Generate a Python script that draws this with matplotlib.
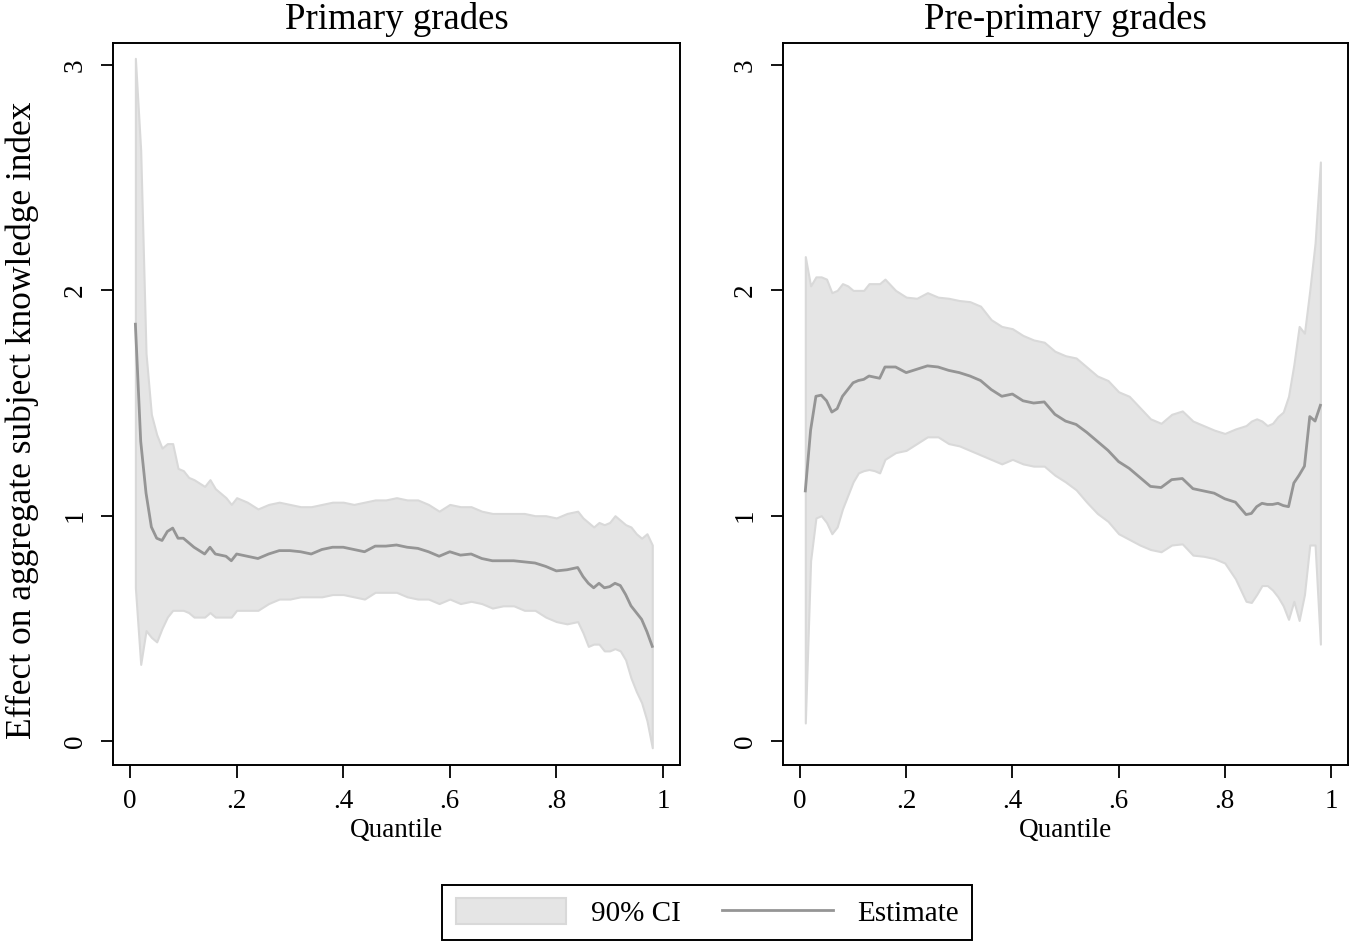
import matplotlib
matplotlib.use("Agg")
import matplotlib.pyplot as plt
from matplotlib.patches import Patch
from matplotlib.lines import Line2D

plt.rcParams["font.family"] = ["Liberation Serif", "DejaVu Serif"]

# ----------------------------
# Data
# ----------------------------

q_primary = [0.01, 0.02, 0.03, 0.04, 0.05, 0.06, 0.07, 0.08, 0.09, 0.10,
             0.11, 0.12, 0.14, 0.15, 0.16, 0.18, 0.19, 0.20, 0.22, 0.24,
             0.26, 0.28, 0.30, 0.32, 0.34, 0.36, 0.38, 0.40, 0.42, 0.44,
             0.46, 0.48, 0.50, 0.52, 0.54, 0.56, 0.58, 0.60, 0.62, 0.64,
             0.66, 0.68, 0.70, 0.72, 0.74, 0.76, 0.78, 0.80, 0.82, 0.84,
             0.85, 0.86, 0.87, 0.88, 0.89, 0.90, 0.91, 0.92, 0.93, 0.94,
             0.95, 0.96, 0.97, 0.98]
upper_primary = [3.03, 2.62, 1.72, 1.45, 1.36, 1.30, 1.32, 1.32, 1.21, 1.20,
                 1.17, 1.16, 1.13, 1.16, 1.12, 1.08, 1.05, 1.08, 1.06, 1.03,
                 1.05, 1.06, 1.05, 1.04, 1.04, 1.05, 1.06, 1.06, 1.05, 1.06,
                 1.07, 1.07, 1.08, 1.07, 1.07, 1.05, 1.02, 1.05, 1.04, 1.04,
                 1.02, 1.01, 1.01, 1.01, 1.01, 1.00, 1.00, 0.99, 1.01, 1.02,
                 0.99, 0.97, 0.95, 0.97, 0.96, 0.97, 1.00, 0.98, 0.96, 0.95,
                 0.92, 0.90, 0.92, 0.87]
est_primary = [1.85, 1.33, 1.10, 0.95, 0.90, 0.89, 0.93, 0.945, 0.90, 0.90,
               0.88, 0.86, 0.83, 0.86, 0.83, 0.82, 0.80, 0.83, 0.82, 0.81,
               0.83, 0.845, 0.845, 0.84, 0.83, 0.85, 0.86, 0.86, 0.85, 0.84,
               0.865, 0.865, 0.87, 0.86, 0.855, 0.84, 0.82, 0.84, 0.825, 0.83,
               0.81, 0.80, 0.80, 0.80, 0.795, 0.79, 0.775, 0.755, 0.76, 0.77,
               0.73, 0.70, 0.68, 0.70, 0.68, 0.685, 0.70, 0.69, 0.65, 0.60,
               0.57, 0.54, 0.485, 0.42]
lower_primary = [0.68, 0.34, 0.49, 0.46, 0.44, 0.50, 0.55, 0.58, 0.58, 0.58,
                 0.57, 0.55, 0.55, 0.57, 0.55, 0.55, 0.55, 0.58, 0.58, 0.58,
                 0.61, 0.63, 0.63, 0.64, 0.64, 0.64, 0.65, 0.65, 0.64, 0.63,
                 0.66, 0.66, 0.66, 0.64, 0.63, 0.63, 0.61, 0.63, 0.61, 0.62,
                 0.61, 0.59, 0.60, 0.60, 0.58, 0.58, 0.55, 0.53, 0.52, 0.53,
                 0.48, 0.42, 0.43, 0.43, 0.40, 0.40, 0.41, 0.40, 0.36, 0.28,
                 0.22, 0.17, 0.09, -0.03]

q_preprimary = [0.01, 0.02, 0.03, 0.04, 0.05, 0.06, 0.07, 0.08, 0.09, 0.10,
                0.11, 0.12, 0.13, 0.14, 0.15, 0.16, 0.18, 0.20, 0.22, 0.24,
                0.26, 0.28, 0.30, 0.32, 0.34, 0.36, 0.38, 0.40, 0.42, 0.44,
                0.46, 0.48, 0.50, 0.52, 0.54, 0.56, 0.58, 0.60, 0.62, 0.64,
                0.66, 0.68, 0.70, 0.72, 0.74, 0.76, 0.78, 0.80, 0.82, 0.84,
                0.85, 0.86, 0.87, 0.88, 0.89, 0.90, 0.91, 0.92, 0.93, 0.94,
                0.95, 0.96, 0.97, 0.98]
upper_preprimary = [2.15, 2.02, 2.06, 2.06, 2.05, 1.99, 2.00, 2.03, 2.02, 2.00,
                    2.00, 2.00, 2.03, 2.03, 2.03, 2.05, 2.00, 1.97, 1.965, 1.99,
                    1.97, 1.965, 1.955, 1.95, 1.93, 1.87, 1.84, 1.83, 1.80, 1.78,
                    1.77, 1.73, 1.71, 1.70, 1.66, 1.62, 1.60, 1.55, 1.53, 1.48,
                    1.43, 1.41, 1.45, 1.465, 1.42, 1.40, 1.38, 1.365, 1.385, 1.40,
                    1.42, 1.43, 1.42, 1.40, 1.41, 1.44, 1.46, 1.53, 1.67, 1.84,
                    1.81, 2.00, 2.21, 2.57]
est_preprimary = [1.11, 1.38, 1.53, 1.535, 1.51, 1.46, 1.475, 1.53, 1.56, 1.59,
                  1.60, 1.605, 1.62, 1.615, 1.61, 1.66, 1.66, 1.635, 1.65, 1.665,
                  1.66, 1.645, 1.635, 1.62, 1.60, 1.56, 1.53, 1.54, 1.51, 1.50,
                  1.505, 1.45, 1.42, 1.405, 1.37, 1.33, 1.29, 1.24, 1.21, 1.17,
                  1.13, 1.125, 1.16, 1.165, 1.12, 1.11, 1.10, 1.075, 1.06, 1.005,
                  1.01, 1.04, 1.055, 1.05, 1.05, 1.055, 1.045, 1.04, 1.145, 1.18,
                  1.22, 1.44, 1.42, 1.49]
lower_preprimary = [0.08, 0.80, 0.99, 1.00, 0.97, 0.92, 0.95, 1.03, 1.09, 1.15,
                    1.19, 1.20, 1.205, 1.20, 1.19, 1.25, 1.28, 1.29, 1.32, 1.35,
                    1.35, 1.32, 1.31, 1.29, 1.27, 1.25, 1.23, 1.25, 1.23, 1.22,
                    1.22, 1.18, 1.15, 1.115, 1.06, 1.01, 0.975, 0.92, 0.895, 0.87,
                    0.85, 0.84, 0.87, 0.875, 0.825, 0.82, 0.81, 0.79, 0.72, 0.62,
                    0.615, 0.65, 0.69, 0.69, 0.67, 0.64, 0.60, 0.54, 0.62, 0.535,
                    0.65, 0.87, 0.87, 0.43]

titles = ["Primary grades", "Pre-primary grades"]
xticks = [0, 0.2, 0.4, 0.6, 0.8, 1]
xtick_labels = ["0", ".2", ".4", ".6", ".8", "1"]
yticks = [0, 1, 2, 3]

# ----------------------------
# Style
# ----------------------------

FILL = "#e5e5e5"
FILL_EDGE = "#d9d9d9"
LINE = "#959595"

fig = plt.figure(figsize=(13.5, 9.43), dpi=100)
ax1 = fig.add_axes([113 / 1350, 178 / 943, 567 / 1350, 722 / 943])
ax2 = fig.add_axes([783 / 1350, 178 / 943, 565 / 1350, 722 / 943])

panels = [
    (ax1, q_primary, lower_primary, upper_primary, est_primary, titles[0]),
    (ax2, q_preprimary, lower_preprimary, upper_preprimary, est_preprimary, titles[1]),
]

for ax, q, lo, hi, est, title in panels:
    ax.fill_between(q, lo, hi, facecolor=FILL, edgecolor=FILL_EDGE, linewidth=1.5)
    ax.plot(q, est, color=LINE, linewidth=2)

    ax.set_xlim(-0.032, 1.032)
    ax.set_ylim(-0.1065, 3.098)
    ax.set_xticks(xticks)
    ax.set_xticklabels(xtick_labels)
    ax.set_yticks(yticks)
    ax.tick_params(axis="x", length=9, width=1.3, pad=8, labelsize=19.5)
    ax.tick_params(axis="y", length=9, width=1.3, pad=9, labelsize=19.5)
    for lab in ax.get_yticklabels():
        lab.set_rotation(90)
        lab.set_va("center")
    for sp in ax.spines.values():
        sp.set_linewidth(1.4)
    ax.set_xlabel("Quantile", fontsize=19.5, labelpad=3)
    ax.set_title(title, fontsize=26.5, pad=10)

ax1.set_ylabel("Effect on aggregate subject knowledge index", fontsize=25.5)
ax1.yaxis.set_label_coords(-0.131, 0.478)

handles = [
    Patch(facecolor=FILL, edgecolor=FILL_EDGE, linewidth=1.5),
    Line2D([0], [0], color=LINE, linewidth=2),
]
leg = fig.legend(handles, ["90% CI", "Estimate"], loc="center",
                 bbox_to_anchor=(0.524, 0.032), ncol=2, fontsize=21,
                 frameon=True, fancybox=False, edgecolor="black", framealpha=1,
                 handlelength=3.8, handleheight=1.0, handletextpad=0.85,
                 columnspacing=1.4, borderpad=0.45, borderaxespad=0)
leg.get_frame().set_linewidth(1.4)

fig.savefig("out.png", dpi=100)
